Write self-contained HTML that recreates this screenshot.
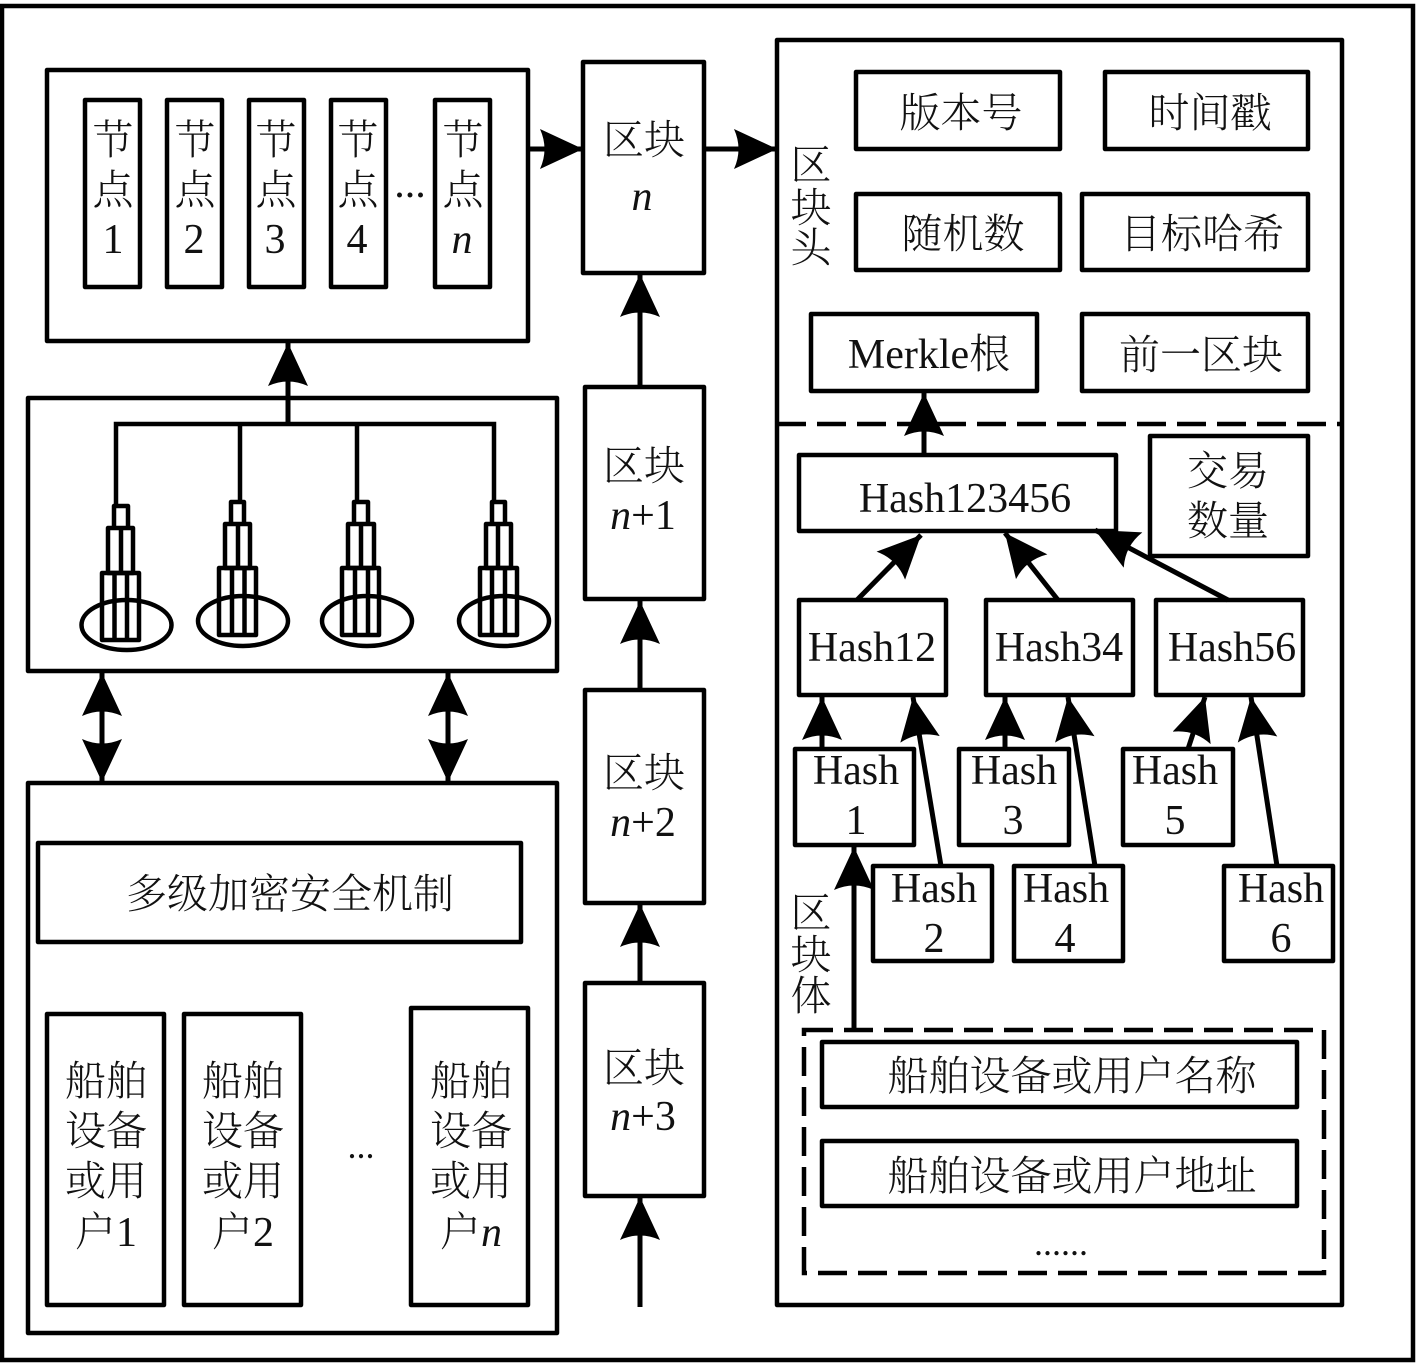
<!DOCTYPE html>
<html><head><meta charset="utf-8"><style>
html,body{margin:0;padding:0;background:#fff}
svg{display:block}
.b{fill:#fff;stroke:#000;stroke-width:4.5;stroke-linejoin:round}
.n{fill:none;stroke:#000;stroke-width:4.5}
.t{stroke:#000;stroke-width:4.5;fill:none;stroke-linejoin:round}
.a{stroke:#000;stroke-width:5;fill:none;marker-end:url(#h)}
text{fill:#111;text-anchor:middle}
.c{font-family:"Noto Serif CJK SC","Liberation Serif",serif;font-size:41px;font-weight:300}
.l{font-family:"Liberation Serif",serif;font-size:42px}
</style></head><body>
<svg width="1417" height="1368" viewBox="0 0 1417 1368" xmlns="http://www.w3.org/2000/svg">
<defs>
<marker id="h" markerUnits="userSpaceOnUse" markerWidth="48" markerHeight="44" refX="43" refY="20" orient="auto">
<path d="M43,20 L0,0 Q9,20 0,40 Z" fill="#000"/>
</marker>
<marker id="s" markerUnits="userSpaceOnUse" markerWidth="48" markerHeight="44" refX="43" refY="20" orient="auto-start-reverse">
<path d="M43,20 L0,0 Q9,20 0,40 Z" fill="#000"/>
</marker>
</defs>
<rect width="1417" height="1368" fill="#fff"/>
<rect x="2" y="6" width="1411" height="1354" fill="#fff" stroke="#000" stroke-width="4.5"/>

<!-- nodes -->
<rect class="b" x="47" y="70" width="481" height="271"/>
<rect class="b" x="85" y="100" width="55" height="187"/>
<rect class="b" x="167" y="100" width="55" height="187"/>
<rect class="b" x="249" y="100" width="55" height="187"/>
<rect class="b" x="331" y="100" width="55" height="187"/>
<rect class="b" x="435" y="100" width="55" height="187"/>
<g class="c">
<text x="113" y="154">节</text><text x="113" y="204">点</text>
<text x="195" y="154">节</text><text x="195" y="204">点</text>
<text x="276" y="154">节</text><text x="276" y="204">点</text>
<text x="358" y="154">节</text><text x="358" y="204">点</text>
<text x="463" y="154">节</text><text x="463" y="204">点</text>
</g>
<g class="l">
<text x="113" y="253">1</text><text x="194" y="253">2</text><text x="275" y="253">3</text><text x="357" y="253">4</text>
<text x="462" y="253" font-style="italic">n</text>
<text x="410" y="197">...</text>
</g>

<!-- tower panel -->
<rect class="b" x="28" y="398" width="529" height="273"/>
<path class="n" d="M116,506V424H494V502M240,424V502M357,424V502M288,424V343"/>
<g class="t">
<path d="M114,528V506H128V528"/>
<rect x="108" y="528" width="25" height="45"/><path d="M121,528V573"/>
<rect x="102" y="573" width="37" height="67"/><path d="M114.500,573V640M127,573V640"/>
<ellipse cx="126.500" cy="625" rx="45" ry="25"/>
<path d="M231,524V502H244V524"/>
<rect x="225" y="524" width="25" height="44"/><path d="M238,524V568"/>
<rect x="219" y="568" width="37" height="67"/><path d="M232,568V635M244.500,568V635"/>
<ellipse cx="243" cy="621" rx="45" ry="25"/>
<path d="M354,524V502H368V524"/>
<rect x="348" y="524" width="26" height="44"/><path d="M361,524V568"/>
<rect x="342" y="568" width="37" height="67"/><path d="M355,568V635M368,568V635"/>
<ellipse cx="367" cy="621" rx="45" ry="25"/>
<path d="M492,524V502H505V524"/>
<rect x="486" y="524" width="25" height="44"/><path d="M498,524V568"/>
<rect x="480" y="568" width="37" height="67"/><path d="M492,568V635M505,568V635"/>
<ellipse cx="504" cy="621" rx="45" ry="25"/>
</g>

<!-- bottom left -->
<rect class="b" x="28" y="783" width="529" height="550"/>
<rect class="b" x="38" y="843" width="483" height="99"/>
<text class="c" x="290" y="908">多级加密安全机制</text>
<rect class="b" x="47" y="1014" width="117" height="291"/>
<rect class="b" x="184" y="1014" width="117" height="291"/>
<rect class="b" x="411" y="1008" width="117" height="297"/>
<g class="c">
<text x="106" y="1095">船舶</text><text x="106" y="1145">设备</text><text x="106" y="1195">或用</text><text x="106" y="1246">户<tspan class="l">1</tspan></text>
<text x="243" y="1095">船舶</text><text x="243" y="1145">设备</text><text x="243" y="1195">或用</text><text x="243" y="1246">户<tspan class="l">2</tspan></text>
<text x="471" y="1095">船舶</text><text x="471" y="1145">设备</text><text x="471" y="1195">或用</text><text x="471" y="1246">户<tspan class="l" font-style="italic">n</tspan></text>
</g>
<text class="l" x="361" y="1158" style="font-size:36px">...</text>

<!-- chain -->
<rect class="b" x="583" y="62" width="121" height="211"/>
<rect class="b" x="585" y="387" width="119" height="212"/>
<rect class="b" x="585" y="690" width="119" height="213"/>
<rect class="b" x="585" y="983" width="119" height="213"/>
<g class="c">
<text x="644" y="154">区块</text>
<text x="644" y="480">区块</text>
<text x="644" y="787">区块</text>
<text x="644" y="1082">区块</text>
</g>
<g class="l">
<text x="642" y="210" font-style="italic">n</text>
<text x="643" y="529"><tspan font-style="italic">n</tspan>+1</text>
<text x="643" y="836"><tspan font-style="italic">n</tspan>+2</text>
<text x="643" y="1130"><tspan font-style="italic">n</tspan>+3</text>
</g>

<!-- right panel -->
<rect class="b" x="777" y="40" width="565" height="1265"/>
<path d="M777,424H1342" stroke="#000" stroke-width="4.500" stroke-dasharray="29,11" fill="none"/>
<rect class="b" x="856" y="72" width="204" height="77"/>
<rect class="b" x="1105" y="72" width="203" height="77"/>
<rect class="b" x="856" y="194" width="204" height="76"/>
<rect class="b" x="1082" y="194" width="226" height="76"/>
<rect class="b" x="811" y="314" width="226" height="77"/>
<rect class="b" x="1082" y="314" width="226" height="77"/>
<rect class="b" x="799" y="455" width="317" height="76"/>
<rect class="b" x="1150" y="436" width="158" height="120"/>
<rect class="b" x="799" y="600" width="147" height="95"/>
<rect class="b" x="986" y="600" width="147" height="95"/>
<rect class="b" x="1156" y="600" width="147" height="95"/>
<rect class="b" x="795" y="749" width="119" height="96"/>
<rect class="b" x="959" y="749" width="110" height="96"/>
<rect class="b" x="1123" y="749" width="110" height="96"/>
<rect class="b" x="873" y="866" width="119" height="95"/>
<rect class="b" x="1014" y="866" width="109" height="95"/>
<rect class="b" x="1224" y="866" width="109" height="95"/>
<g class="c">
<text x="961" y="127">版本号</text>
<text x="1210" y="127">时间戳</text>
<text x="963" y="248">随机数</text>
<text x="1202" y="248">目标哈希</text>
<text x="1201" y="369">前一区块</text>
<text x="811" y="179">区</text><text x="811" y="222">块</text><text x="811" y="262">头</text>
<text x="811" y="927">区</text><text x="811" y="969">块</text><text x="811" y="1010">体</text>
<text x="1228" y="485">交易</text>
<text x="1228" y="535">数量</text>
</g>
<text class="l" x="929" y="368">Merkle<tspan class="c">根</tspan></text>
<g class="l">
<text x="965" y="512">Hash123456</text>
<text x="872" y="661">Hash12</text>
<text x="1059" y="661">Hash34</text>
<text x="1232" y="661">Hash56</text>
<text x="856" y="784">Hash</text><text x="856" y="834">1</text>
<text x="1014" y="784">Hash</text><text x="1013" y="834">3</text>
<text x="1175" y="784">Hash</text><text x="1175" y="834">5</text>
<text x="934" y="902">Hash</text><text x="934" y="952">2</text>
<text x="1066" y="902">Hash</text><text x="1065" y="952">4</text>
<text x="1281" y="902">Hash</text><text x="1281" y="952">6</text>
</g>

<rect x="804" y="1030" width="520" height="243" fill="none" stroke="#000" stroke-width="4.500" stroke-dasharray="29,11"/>
<rect class="b" x="822" y="1042" width="475" height="65"/>
<rect class="b" x="822" y="1141" width="475" height="65"/>
<text class="c" x="1072" y="1090">船舶设备或用户名称</text>
<text class="c" x="1072" y="1190">船舶设备或用户地址</text>
<text class="l" x="1061" y="1255" style="font-size:36px">......</text>

<!-- arrows -->
<path class="a" d="M528,149H583"/>
<path class="a" d="M704,149H777"/>
<path class="a" d="M640,387V274"/>
<path class="a" d="M640,690V601"/>
<path class="a" d="M640,983V904"/>
<path class="a" d="M640,1307V1197"/>
<path class="a" d="M288,424V343"/>
<path d="M102,673V782" stroke="#000" stroke-width="5" marker-start="url(#s)" marker-end="url(#s)"/>
<path d="M448,673V782" stroke="#000" stroke-width="5" marker-start="url(#s)" marker-end="url(#s)"/>
<path class="a" d="M924,455V393"/>
<path class="a" d="M857,600L921,535"/>
<path class="a" d="M1058,600L1005,533"/>
<path class="a" d="M1228,600L1095,530"/>
<path class="a" d="M822,749V697"/>
<path class="a" d="M941,866L913,697"/>
<path class="a" d="M1005,749V697"/>
<path class="a" d="M1095,866L1068,697"/>
<path class="a" d="M1188,749L1205,697"/>
<path class="a" d="M1277,866L1251,697"/>
<path class="a" d="M854,1030V847"/>
</svg>
</body></html>
